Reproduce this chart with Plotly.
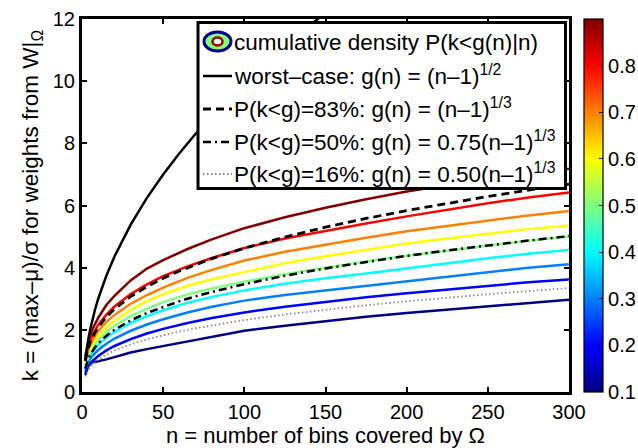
import plotly.graph_objects as go
from plotly.colors import sample_colorscale

# ---------------- data ----------------
n_pts = [2, 3, 4, 6, 8, 10, 15, 20, 30, 40, 50, 65, 80, 100, 125, 150, 175, 200, 225, 250, 275, 300]
levels = [0.1, 0.2, 0.3, 0.4, 0.5, 0.6, 0.7, 0.8, 0.9]
k_p01 = [0.55, 0.72, 0.85, 0.95, 0.98, 0.99, 1.05, 1.12, 1.27, 1.38, 1.48, 1.62, 1.79, 1.97, 2.13, 2.28, 2.42, 2.54, 2.65, 2.76, 2.87, 2.97]
k_p02 = [0.65, 0.77, 0.85, 0.98, 1.08, 1.16, 1.34, 1.48, 1.70, 1.88, 2.03, 2.22, 2.38, 2.56, 2.74, 2.90, 3.05, 3.18, 3.30, 3.42, 3.53, 3.62]
k_p03 = [0.73, 0.88, 0.98, 1.14, 1.25, 1.35, 1.55, 1.72, 1.97, 2.17, 2.34, 2.56, 2.74, 2.94, 3.12, 3.27, 3.42, 3.57, 3.72, 3.86, 4.00, 4.11]
k_p04 = [0.80, 0.97, 1.09, 1.27, 1.41, 1.52, 1.75, 1.93, 2.22, 2.44, 2.63, 2.87, 3.06, 3.27, 3.48, 3.66, 3.81, 3.98, 4.15, 4.30, 4.45, 4.57]
k_p05 = [0.87, 1.07, 1.20, 1.40, 1.56, 1.68, 1.94, 2.13, 2.44, 2.68, 2.89, 3.14, 3.33, 3.55, 3.79, 4.00, 4.20, 4.38, 4.55, 4.72, 4.87, 5.00]
k_p06 = [0.92, 1.13, 1.28, 1.49, 1.65, 1.79, 2.07, 2.29, 2.64, 2.92, 3.15, 3.42, 3.63, 3.86, 4.14, 4.37, 4.58, 4.78, 4.94, 5.10, 5.24, 5.36]
k_p07 = [0.98, 1.22, 1.38, 1.62, 1.81, 1.96, 2.25, 2.48, 2.84, 3.12, 3.36, 3.67, 3.93, 4.23, 4.51, 4.74, 4.96, 5.17, 5.34, 5.52, 5.68, 5.82]
k_p08 = [1.05, 1.32, 1.51, 1.79, 1.99, 2.16, 2.49, 2.75, 3.15, 3.46, 3.73, 4.04, 4.31, 4.63, 4.94, 5.19, 5.42, 5.65, 5.87, 6.07, 6.26, 6.42]
k_p09 = [1.15, 1.45, 1.66, 1.97, 2.20, 2.39, 2.80, 3.09, 3.59, 3.97, 4.24, 4.60, 4.91, 5.27, 5.62, 5.93, 6.20, 6.45, 6.66, 6.85, 7.02, 7.18]
k_levels = [k_p01, k_p02, k_p03, k_p04, k_p05, k_p06, k_p07, k_p08, k_p09]

n_ref = [2, 3, 4, 5, 6, 7, 8, 10, 12, 15, 20, 25, 30, 40, 50, 60, 70, 80, 100, 125, 150, 175, 200, 225, 250, 275, 300]
k_worst = [1.0, 1.414, 1.732, 2.0, 2.236, 2.449, 2.646, 3.0, 3.317, 3.742, 4.359, 4.899, 5.385, 6.245, 7.0, 7.681, 8.307, 8.888, 9.95, 11.136, 12.207]
k_83 = [1.0, 1.26, 1.442, 1.587, 1.71, 1.817, 1.913, 2.08, 2.224, 2.41, 2.668, 2.884, 3.072, 3.391, 3.659, 3.893, 4.102, 4.291, 4.626, 4.987, 5.301, 5.583, 5.838, 6.073, 6.29, 6.495, 6.687]
k_50 = [0.75, 0.945, 1.082, 1.19, 1.283, 1.363, 1.435, 1.56, 1.668, 1.808, 2.001, 2.163, 2.304, 2.543, 2.744, 2.92, 3.077, 3.218, 3.47, 3.74, 3.976, 4.187, 4.379, 4.555, 4.718, 4.871, 5.015]
k_16 = [0.5, 0.63, 0.721, 0.794, 0.855, 0.909, 0.957, 1.04, 1.112, 1.205, 1.334, 1.442, 1.536, 1.696, 1.83, 1.947, 2.051, 2.146, 2.313, 2.494, 2.651, 2.792, 2.919, 3.037, 3.145, 3.248, 3.344]

x_ticks = [0, 50, 100, 150, 200, 250, 300]
y_ticks = [0, 2, 4, 6, 8, 10, 12]
cbar_ticks = [0.1, 0.2, 0.3, 0.4, 0.5, 0.6, 0.7, 0.8]

legend_texts = [
    "cumulative density P(k&lt;g(n)|n)",
    "worst–case: g(n) = (n–1)<sup>1/2</sup>",
    "P(k&lt;g)=83%: g(n) = (n–1)<sup>1/3</sup>",
    "P(k&lt;g)=50%: g(n) = 0.75(n–1)<sup>1/3</sup>",
    "P(k&lt;g)=16%: g(n) = 0.50(n–1)<sup>1/3</sup>",
]

# ---------------- style ----------------
FONT = "Liberation Sans, Arial, Helvetica, sans-serif"
W, H = 638, 448
L, R, T, B = 82, 569, 19, 392
jet = [[0.0, "#000080"], [0.125, "#0000FF"], [0.375, "#00FFFF"],
       [0.625, "#FFFF00"], [0.875, "#FF0000"], [1.0, "#800000"]]
cmin, cmax = 0.1, 0.9


def px(x):
    return (x - L) / (R - L)


def py(y):
    return (B - y) / (B - T)


fig = go.Figure()

line_colors = sample_colorscale(jet, [(v - cmin) / (cmax - cmin) for v in levels])
for lev, ks, col in zip(levels, k_levels, line_colors):
    fig.add_trace(go.Scatter(x=n_pts, y=ks, mode="lines", name=f"{lev:.1f}",
                             line=dict(color=col, width=2.5), showlegend=False,
                             hoverinfo="skip"))

fig.add_trace(go.Scatter(x=n_ref[:len(k_worst)], y=k_worst, mode="lines",
                         line=dict(color="black", width=2.5), showlegend=False))
fig.add_trace(go.Scatter(x=n_ref, y=k_16, mode="lines",
                         line=dict(color="#8a8a8a", width=1.8, dash="1.5px,2.5px"), showlegend=False))
fig.add_trace(go.Scatter(x=n_ref, y=k_50, mode="lines",
                         line=dict(color="black", width=2.5, dash="8px,4px,2px,4px"), showlegend=False))
fig.add_trace(go.Scatter(x=n_ref, y=k_83, mode="lines",
                         line=dict(color="black", width=2.8, dash="8px,5px"), showlegend=False))

# colorbar
cbar = dict(thickness=19, thicknessmode="pixels",
            len=1, lenmode="fraction",
            x=px(584), xanchor="left", xpad=0,
            y=0.5, yanchor="middle", ypad=0,
            outlinewidth=1.2, outlinecolor="black",
            tickvals=cbar_ticks, ticks="inside",
            ticklen=4, tickcolor="black",
            tickfont=dict(size=20, color="black", family=FONT))
fig.add_trace(go.Scatter(x=[None], y=[None], mode="markers", showlegend=False,
                         marker=dict(color=[0.5], colorscale=jet, cmin=cmin, cmax=cmax,
                                     showscale=True, colorbar=cbar)))

# ---------------- legend (drawn as overlay box) ----------------
shapes = []
shapes.append(dict(type="rect", xref="paper", yref="paper", layer="above",
                   x0=px(198), x1=px(565.5), y0=py(188.5), y1=py(22.5),
                   fillcolor="white", line=dict(color="black", width=3)))
rows = [42, 75, 108, 141, 173]
sx0, sx1 = 203, 232
# contour icon
shapes.append(dict(type="circle", xref="paper", yref="paper", layer="above",
                   x0=px(204), x1=px(231), y0=py(51), y1=py(32),
                   fillcolor="#80FF80", line=dict(color="#000080", width=3)))
shapes.append(dict(type="circle", xref="paper", yref="paper", layer="above",
                   x0=px(212.5), x1=px(222.5), y0=py(45.5), y1=py(37.5),
                   fillcolor="white", line=dict(color="#A00000", width=2.5)))
line_styles = [dict(color="black", width=2.5),
               dict(color="black", width=2.8, dash="8px,5px"),
               dict(color="black", width=2.5, dash="8px,4px,2px,4px"),
               dict(color="#8a8a8a", width=1.8, dash="1.5px,2.5px")]
for ry, st in zip(rows[1:], line_styles):
    shapes.append(dict(type="line", xref="paper", yref="paper", layer="above",
                       x0=px(sx0), x1=px(sx1), y0=py(ry + 1), y1=py(ry + 1), line=st))

annotations = []
for ry, txt in zip(rows, legend_texts):
    annotations.append(dict(text=txt, xref="paper", yref="paper", x=px(232), y=py(ry),
                            xanchor="left", yanchor="middle", showarrow=False,
                            font=dict(size=22.5, color="black", family=FONT)))

axis_common = dict(ticks="inside", ticklen=5, tickwidth=1.5, tickcolor="black",
                   showline=True, linewidth=3, linecolor="black", mirror="allticks",
                   showgrid=False, zeroline=False,
                   tickfont=dict(size=20, color="black", family=FONT))

fig.update_layout(
    width=W, height=H,
    margin=dict(l=L, r=W - R, t=T, b=H - B, autoexpand=False),
    paper_bgcolor="white", plot_bgcolor="white",
    showlegend=False,
    shapes=shapes, annotations=annotations,
    xaxis=dict(range=[0, 300], tickvals=x_ticks,
               title=dict(text="n = number of bins covered by Ω", standoff=2,
                          font=dict(size=22, color="black", family=FONT)),
               **axis_common),
    yaxis=dict(range=[0, 12], tickvals=y_ticks,
               title=dict(text="k = (max–μ)/σ for weights from W|<sub>Ω</sub>", standoff=8,
                          font=dict(size=22.5, color="black", family=FONT)),
               **axis_common),
)

fig.write_html("out.html", config={"displayModeBar": False},
               post_script="document.body.style.margin='0px';")
